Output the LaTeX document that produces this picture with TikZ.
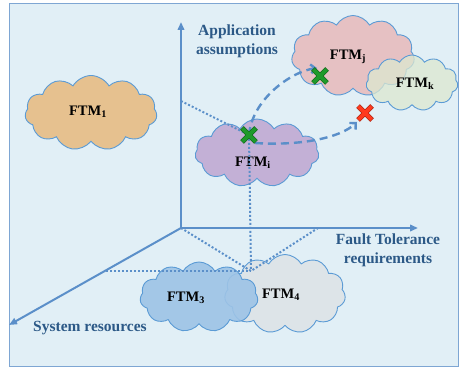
\documentclass[tikz,border=0pt]{standalone}
\usepackage{fontspec}
\setmainfont{Liberation Serif}
\usetikzlibrary{shapes.symbols,arrows.meta,calc}
\definecolor{bgc}{HTML}{E1EFF6}
\definecolor{framec}{HTML}{7EA6D3}
\definecolor{axisc}{HTML}{5B8FC9}
\definecolor{labc}{HTML}{2C5987}
\definecolor{cloudline}{HTML}{5B9BD5}
\definecolor{orangec}{HTML}{E6C18F}
\definecolor{purplec}{HTML}{C3B0D6}
\definecolor{pinkc}{HTML}{E6C1C3}
\definecolor{greenc}{HTML}{DCE8D0}
\definecolor{bluec}{HTML}{9DC3E6}
\definecolor{greyc}{HTML}{DDE4E8}
\definecolor{okc}{HTML}{1E9A2A}
\definecolor{badc}{HTML}{FF3A1E}
\tikzset{
  ftm/.style={cloud, cloud puffs=11, cloud puff arc=120, draw=cloudline, line width=0.9pt, inner sep=0pt},
  ftmlabel/.style={font=\bfseries\fontsize{14.5}{16}\selectfont, text=black, inner sep=0pt},
  axislabel/.style={font=\bfseries\fontsize{15.5}{19}\selectfont, text=labc, align=center, inner sep=0pt},
  axisline/.style={draw=axisc, line width=2pt, -{Triangle[length=8pt,width=6.5pt]}},
  projline/.style={draw=axisc, line width=2pt, dash pattern=on 2pt off 2pt},
  trans/.style={draw=axisc, line width=2.4pt, dash pattern=on 8pt off 5pt, -{Straight Barb[length=4.5pt,width=9pt]}},
}
\newcommand{\xmark}[2]{%
  \draw[line width=5pt, #2!70!black] ($(#1)+(-7,-7)$) -- ($(#1)+(7,7)$) ($(#1)+(-7,7)$) -- ($(#1)+(7,-7)$);
  \draw[line width=3.6pt, #2] ($(#1)+(-6.6,-6.6)$) -- ($(#1)+(6.6,6.6)$) ($(#1)+(-6.6,6.6)$) -- ($(#1)+(6.6,-6.6)$);}
\begin{document}
\begin{tikzpicture}[x=1pt,y=-1pt]
\useasboundingbox (0,0) rectangle (459,369);
\fill[white] (0,0) rectangle (459,369);
\draw[framec, fill=bgc, line width=1pt] (9.5,3.5) rectangle (458,367);

% origin and axis ends
\coordinate (O) at (181,228);
\coordinate (ytip) at (181,22);
\coordinate (xtip) at (418,228);
\coordinate (ztip) at (9,325);

\draw[axisline] (O) -- (ytip);
\draw[axisline] (O) -- (xtip);
\draw[axisline] (O) -- (ztip);

% clouds
\node[ftm, fill=orangec, minimum width=132pt, minimum height=75pt] (c1) at (91,113) {};
\node[ftm, fill=purplec, minimum width=124pt, minimum height=68pt] (ci) at (257,153) {};
\node[ftm, fill=pinkc, minimum width=123pt, minimum height=81pt] (cj) at (353,56) {};
\node[ftm, fill=greenc, fill opacity=0.75, minimum width=92pt, minimum height=56pt] (ck) at (412,83) {};
\node[ftm, fill=greyc, minimum width=121pt, minimum height=79pt] (c4) at (285,294) {};
\node[ftm, fill=bluec, fill opacity=0.9, minimum width=118pt, minimum height=70pt] (c3) at (199,297) {};

\node[ftmlabel] (l1) at (88,112) {FTM\textsubscript{1}};
\node[ftmlabel] (li) at (253,163) {FTM\textsubscript{i}};
\node[ftmlabel] (lj) at (348,57) {FTM\textsubscript{j}};
\node[ftmlabel] (lk) at (415,84) {FTM\textsubscript{k}};
\node[ftmlabel] (l3) at (186,298) {FTM\textsubscript{3}};
\node[ftmlabel] (l4) at (281,295) {FTM\textsubscript{4}};

% projection lines
\coordinate (P) at (249,135);
\coordinate (Py) at (181,101);
\coordinate (Pb) at (251,271);
\coordinate (Pz) at (106,271);
\coordinate (Px) at (318,228);
\draw[projline] (Py) -- (P) -- (Pb);
\draw[projline] (O) -- (Pb) -- (Px);
\draw[projline] (Pz) -- (Pb);
\draw[projline] (Py) -- (O);

% transitions
\coordinate (Q) at (320,76);
\coordinate (R) at (365,113);
\draw[trans] (P) .. controls (252,100) and (290,72) .. (317,68);
\draw[trans] ($(P)+(6,8)$) .. controls (300,146) and (340,138) .. (357,122);

\xmark{P}{okc}
\xmark{Q}{okc}
\xmark{R}{badc}

% axis labels
\node[axislabel] (ya) at (237,41) {Application\\assumptions};
\node[axislabel] (xa) at (388,250) {Fault Tolerance\\requirements};
\node[axislabel] (za) at (90,328) {System resources};
\end{tikzpicture}
\end{document}
